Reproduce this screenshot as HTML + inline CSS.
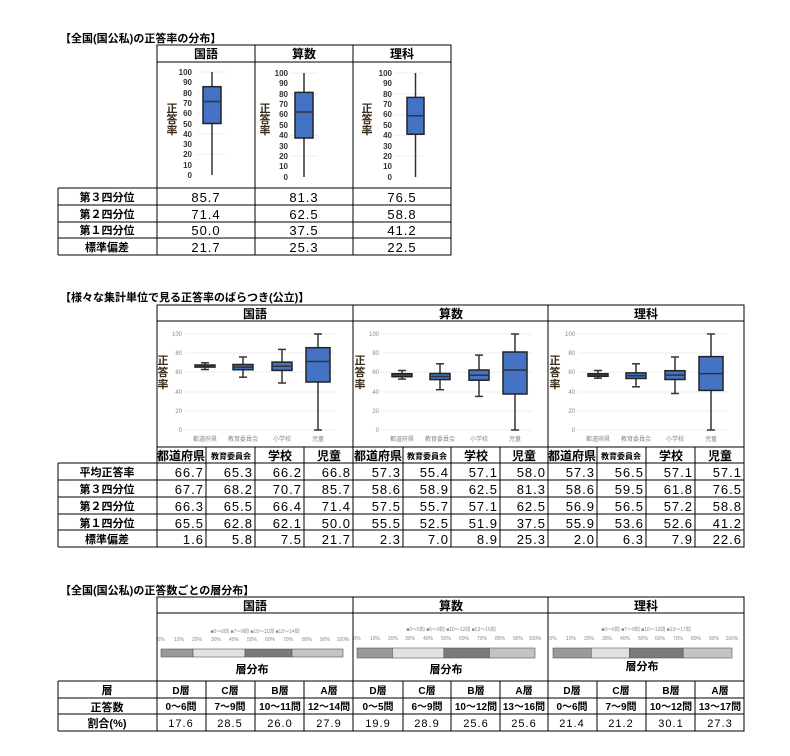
<!DOCTYPE html>
<html><head><meta charset="utf-8"><style>
html,body{margin:0;padding:0;background:#fff;width:790px;height:756px;overflow:hidden}
svg{display:block}
text{font-family:"Liberation Sans","Noto Sans CJK JP",sans-serif}
.t{font-size:11px;font-weight:bold}
.h{font-size:12px;font-weight:bold;text-anchor:middle}
.l{font-size:11px;font-weight:bold;text-anchor:middle}
.n{font-size:13px;text-anchor:middle;letter-spacing:1px}
.r{font-size:13px;text-anchor:end;letter-spacing:1px}
.ax{font-size:8px;font-weight:bold;text-anchor:end;fill:#333}
.ax2{font-size:6px;text-anchor:end;fill:#888}
.cat{font-size:6px;text-anchor:middle;fill:#888}
.v{font-size:11px;font-weight:bold;fill:#3a2a1a;text-anchor:middle}
.sm{font-size:10px;font-weight:bold;text-anchor:middle}
.ln line,.ln rect{stroke:#000;stroke-width:1}
.bx rect{fill:#4472c4;stroke:#222;stroke-width:1.5}
.bx line{stroke:#333;stroke-width:1.5}
.g line{stroke:#eee;stroke-width:1}
.tk{font-size:5px;fill:#888;text-anchor:middle}
</style></head><body>
<svg width="790" height="756" xmlns="http://www.w3.org/2000/svg">
<!-- ===== Section 1 ===== -->
<text class="t" x="60" y="42">【全国(国公私)の正答率の分布】</text>
<g class="ln" fill="none">
<rect x="157" y="45" width="294" height="210"/>
<line x1="255" y1="45" x2="255" y2="255"/><line x1="353" y1="45" x2="353" y2="255"/>
<line x1="157" y1="62" x2="451" y2="62"/>
<line x1="58" y1="188" x2="451" y2="188"/><line x1="58" y1="205" x2="451" y2="205"/>
<line x1="58" y1="222" x2="451" y2="222"/><line x1="58" y1="238" x2="451" y2="238"/>
<line x1="58" y1="255" x2="451" y2="255"/><line x1="58" y1="188" x2="58" y2="255"/>
</g>
<text class="h" x="206" y="58">国語</text><text class="h" x="304" y="58">算数</text><text class="h" x="402" y="58">理科</text>
<!-- axes sec1 -->
<g class="g">
<line x1="197" y1="72" x2="225" y2="72"/><line x1="197" y1="92.6" x2="225" y2="92.6"/><line x1="197" y1="113.2" x2="225" y2="113.2"/><line x1="197" y1="133.8" x2="225" y2="133.8"/><line x1="197" y1="154.4" x2="225" y2="154.4"/>
<line x1="290" y1="73" x2="318" y2="73"/><line x1="290" y1="93.8" x2="318" y2="93.8"/><line x1="290" y1="114.6" x2="318" y2="114.6"/><line x1="290" y1="135.4" x2="318" y2="135.4"/><line x1="290" y1="156.2" x2="318" y2="156.2"/>
<line x1="394" y1="73" x2="423" y2="73"/><line x1="394" y1="93.8" x2="423" y2="93.8"/><line x1="394" y1="114.6" x2="423" y2="114.6"/><line x1="394" y1="135.4" x2="423" y2="135.4"/><line x1="394" y1="156.2" x2="423" y2="156.2"/>
</g>
<g class="ax">
<text x="192" y="75">100</text><text x="192" y="85">90</text><text x="192" y="96">80</text><text x="192" y="106">70</text><text x="192" y="116">60</text><text x="192" y="127">50</text><text x="192" y="137">40</text><text x="192" y="147">30</text><text x="192" y="157">20</text><text x="192" y="168">10</text><text x="192" y="178">0</text>
<text x="288" y="76">100</text><text x="288" y="86">90</text><text x="288" y="97">80</text><text x="288" y="107">70</text><text x="288" y="117">60</text><text x="288" y="128">50</text><text x="288" y="138">40</text><text x="288" y="149">30</text><text x="288" y="159">20</text><text x="288" y="169">10</text><text x="288" y="180">0</text>
<text x="392" y="76">100</text><text x="392" y="86">90</text><text x="392" y="97">80</text><text x="392" y="107">70</text><text x="392" y="117">60</text><text x="392" y="128">50</text><text x="392" y="138">40</text><text x="392" y="149">30</text><text x="392" y="159">20</text><text x="392" y="169">10</text><text x="392" y="180">0</text>
</g>
<g class="v"><text x="172" y="112">正</text><text x="172" y="123">答</text><text x="172" y="134">率</text>
<text x="265" y="112">正</text><text x="265" y="123">答</text><text x="265" y="134">率</text>
<text x="367" y="112">正</text><text x="367" y="123">答</text><text x="367" y="134">率</text></g>
<g class="bx">
<line x1="212" y1="72" x2="212" y2="175"/><rect x="203" y="86.7" width="18" height="36.8"/><line x1="203" y1="101.5" x2="221" y2="101.5"/>
<line x1="304" y1="73" x2="304" y2="177"/><rect x="295" y="92.4" width="18" height="45.6"/><line x1="295" y1="112" x2="313" y2="112"/>
<line x1="415.5" y1="73" x2="415.5" y2="177"/><rect x="407" y="97.4" width="17" height="36.8"/><line x1="407" y1="115.8" x2="424" y2="115.8"/>
</g>
<g class="l"><text x="107" y="201">第３四分位</text><text x="107" y="218">第２四分位</text><text x="107" y="234">第１四分位</text><text x="107" y="251">標準偏差</text></g>
<g class="n">
<text x="206" y="202">85.7</text><text x="304" y="202">81.3</text><text x="402" y="202">76.5</text>
<text x="206" y="219">71.4</text><text x="304" y="219">62.5</text><text x="402" y="219">58.8</text>
<text x="206" y="235">50.0</text><text x="304" y="235">37.5</text><text x="402" y="235">41.2</text>
<text x="206" y="252">21.7</text><text x="304" y="252">25.3</text><text x="402" y="252">22.5</text>
</g>

<!-- ===== Section 2 ===== -->
<text class="t" x="60" y="301">【様々な集計単位で見る正答率のばらつき(公立)】</text>
<g class="ln" fill="none">
<rect x="157" y="305" width="587" height="242"/>
<line x1="353" y1="305" x2="353" y2="547"/><line x1="548" y1="305" x2="548" y2="547"/>
<line x1="157" y1="321" x2="744" y2="321"/><line x1="157" y1="447" x2="744" y2="447"/>
<line x1="58" y1="463" x2="744" y2="463"/><line x1="58" y1="480" x2="744" y2="480"/>
<line x1="58" y1="497" x2="744" y2="497"/><line x1="58" y1="514" x2="744" y2="514"/>
<line x1="58" y1="530" x2="744" y2="530"/><line x1="58" y1="547" x2="744" y2="547"/>
<line x1="58" y1="463" x2="58" y2="547"/>
<line x1="206" y1="447" x2="206" y2="547"/><line x1="255" y1="447" x2="255" y2="547"/><line x1="304" y1="447" x2="304" y2="547"/>
<line x1="403" y1="447" x2="403" y2="547"/><line x1="451" y1="447" x2="451" y2="547"/><line x1="500" y1="447" x2="500" y2="547"/>
<line x1="597" y1="447" x2="597" y2="547"/><line x1="646" y1="447" x2="646" y2="547"/><line x1="695" y1="447" x2="695" y2="547"/>
</g>
<text class="h" x="255" y="318">国語</text><text class="h" x="451" y="318">算数</text><text class="h" x="646" y="318">理科</text>
<g class="g">
<line x1="185" y1="334" x2="335" y2="334"/><line x1="185" y1="353" x2="335" y2="353"/><line x1="185" y1="372" x2="335" y2="372"/><line x1="185" y1="392" x2="335" y2="392"/><line x1="185" y1="411" x2="335" y2="411"/><line x1="185" y1="430" x2="335" y2="430"/>
<line x1="382" y1="334" x2="532" y2="334"/><line x1="382" y1="353" x2="532" y2="353"/><line x1="382" y1="372" x2="532" y2="372"/><line x1="382" y1="392" x2="532" y2="392"/><line x1="382" y1="411" x2="532" y2="411"/><line x1="382" y1="430" x2="532" y2="430"/>
<line x1="578" y1="334" x2="728" y2="334"/><line x1="578" y1="353" x2="728" y2="353"/><line x1="578" y1="372" x2="728" y2="372"/><line x1="578" y1="392" x2="728" y2="392"/><line x1="578" y1="411" x2="728" y2="411"/><line x1="578" y1="430" x2="728" y2="430"/>
</g>
<g class="ax2">
<text x="182" y="336">100</text><text x="182" y="355">80</text><text x="182" y="374">60</text><text x="182" y="394">40</text><text x="182" y="413">20</text><text x="182" y="432">0</text>
<text x="379" y="336">100</text><text x="379" y="355">80</text><text x="379" y="374">60</text><text x="379" y="394">40</text><text x="379" y="413">20</text><text x="379" y="432">0</text>
<text x="575" y="336">100</text><text x="575" y="355">80</text><text x="575" y="374">60</text><text x="575" y="394">40</text><text x="575" y="413">20</text><text x="575" y="432">0</text>
</g>
<g class="cat">
<text x="205" y="441">都道府県</text><text x="243" y="441">教育委員会</text><text x="282" y="441">小学校</text><text x="318" y="441">児童</text>
<text x="402" y="441">都道府県</text><text x="440" y="441">教育委員会</text><text x="479" y="441">小学校</text><text x="515" y="441">児童</text>
<text x="598" y="441">都道府県</text><text x="636" y="441">教育委員会</text><text x="675" y="441">小学校</text><text x="711" y="441">児童</text>
</g>
<g class="v"><text x="163" y="364">正</text><text x="163" y="376">答</text><text x="163" y="388">率</text>
<text x="360" y="364">正</text><text x="360" y="376">答</text><text x="360" y="388">率</text>
<text x="555" y="364">正</text><text x="555" y="376">答</text><text x="555" y="388">率</text></g>
<g class="bx">
<!-- 国語 -->
<line x1="205" y1="362.8" x2="205" y2="369.5"/><line x1="201" y1="362.8" x2="209" y2="362.8"/><line x1="201" y1="369.5" x2="209" y2="369.5"/><rect x="195" y="365" width="20" height="2.1"/><line x1="195" y1="366.4" x2="215" y2="366.4"/>
<line x1="243" y1="357" x2="243" y2="377.2"/><line x1="239" y1="357" x2="247" y2="357"/><line x1="239" y1="377.2" x2="247" y2="377.2"/><rect x="233" y="364.5" width="20" height="5.2"/><line x1="233" y1="367.1" x2="253" y2="367.1"/>
<line x1="282" y1="349.4" x2="282" y2="383"/><line x1="278" y1="349.4" x2="286" y2="349.4"/><line x1="278" y1="383" x2="286" y2="383"/><rect x="272" y="362.1" width="20" height="8.3"/><line x1="272" y1="366.3" x2="292" y2="366.3"/>
<line x1="318" y1="334" x2="318" y2="430"/><line x1="314" y1="334" x2="322" y2="334"/><line x1="314" y1="430" x2="322" y2="430"/><rect x="306" y="347.7" width="24" height="34.3"/><line x1="306" y1="361.5" x2="330" y2="361.5"/>
<!-- 算数 -->
<line x1="402" y1="370.5" x2="402" y2="379.1"/><line x1="398" y1="370.5" x2="406" y2="370.5"/><line x1="398" y1="379.1" x2="406" y2="379.1"/><rect x="392" y="373.7" width="20" height="3"/><line x1="392" y1="374.8" x2="412" y2="374.8"/>
<line x1="440" y1="363.8" x2="440" y2="389.7"/><line x1="436" y1="363.8" x2="444" y2="363.8"/><line x1="436" y1="389.7" x2="444" y2="389.7"/><rect x="430" y="373.5" width="20" height="6.1"/><line x1="430" y1="376.5" x2="450" y2="376.5"/>
<line x1="479" y1="355.1" x2="479" y2="396.4"/><line x1="475" y1="355.1" x2="483" y2="355.1"/><line x1="475" y1="396.4" x2="483" y2="396.4"/><rect x="469" y="370" width="20" height="10.2"/><line x1="469" y1="375.2" x2="489" y2="375.2"/>
<line x1="515" y1="334" x2="515" y2="430"/><line x1="511" y1="334" x2="519" y2="334"/><line x1="511" y1="430" x2="519" y2="430"/><rect x="503" y="352" width="24" height="42"/><line x1="503" y1="370" x2="527" y2="370"/>
<!-- 理科 -->
<line x1="598" y1="370.5" x2="598" y2="378.2"/><line x1="594" y1="370.5" x2="602" y2="370.5"/><line x1="594" y1="378.2" x2="602" y2="378.2"/><rect x="588" y="373.7" width="20" height="2.6"/><line x1="588" y1="375.4" x2="608" y2="375.4"/>
<line x1="636" y1="363.8" x2="636" y2="386.8"/><line x1="632" y1="363.8" x2="640" y2="363.8"/><line x1="632" y1="386.8" x2="640" y2="386.8"/><rect x="626" y="372.9" width="20" height="5.6"/><line x1="626" y1="375.8" x2="646" y2="375.8"/>
<line x1="675" y1="357" x2="675" y2="393.5"/><line x1="671" y1="357" x2="679" y2="357"/><line x1="671" y1="393.5" x2="679" y2="393.5"/><rect x="665" y="370.7" width="20" height="8.8"/><line x1="665" y1="375.1" x2="685" y2="375.1"/>
<line x1="711" y1="334" x2="711" y2="430"/><line x1="707" y1="334" x2="715" y2="334"/><line x1="707" y1="430" x2="715" y2="430"/><rect x="699" y="356.6" width="24" height="33.8"/><line x1="699" y1="373.6" x2="723" y2="373.6"/>
</g>
<g class="h" style="font-size:12px">
<text x="181" y="460">都道府県</text><text x="280" y="460">学校</text><text x="329" y="460">児童</text>
<text x="378" y="460">都道府県</text><text x="476" y="460">学校</text><text x="524" y="460">児童</text>
<text x="572" y="460">都道府県</text><text x="671" y="460">学校</text><text x="720" y="460">児童</text>
</g>
<g class="h" style="font-size:8px"><text x="231" y="459">教育委員会</text><text x="427" y="459">教育委員会</text><text x="621" y="459">教育委員会</text></g>
<g class="l"><text x="107" y="476">平均正答率</text><text x="107" y="493">第３四分位</text><text x="107" y="510">第２四分位</text><text x="107" y="527">第１四分位</text><text x="107" y="543">標準偏差</text></g>
<g class="r">
<text x="204" y="477">66.7</text><text x="253" y="477">65.3</text><text x="302" y="477">66.2</text><text x="351" y="477">66.8</text><text x="401" y="477">57.3</text><text x="449" y="477">55.4</text><text x="498" y="477">57.1</text><text x="546" y="477">58.0</text><text x="595" y="477">57.3</text><text x="644" y="477">56.5</text><text x="693" y="477">57.1</text><text x="742" y="477">57.1</text>
<text x="204" y="494">67.7</text><text x="253" y="494">68.2</text><text x="302" y="494">70.7</text><text x="351" y="494">85.7</text><text x="401" y="494">58.6</text><text x="449" y="494">58.9</text><text x="498" y="494">62.5</text><text x="546" y="494">81.3</text><text x="595" y="494">58.6</text><text x="644" y="494">59.5</text><text x="693" y="494">61.8</text><text x="742" y="494">76.5</text>
<text x="204" y="511">66.3</text><text x="253" y="511">65.5</text><text x="302" y="511">66.4</text><text x="351" y="511">71.4</text><text x="401" y="511">57.5</text><text x="449" y="511">55.7</text><text x="498" y="511">57.1</text><text x="546" y="511">62.5</text><text x="595" y="511">56.9</text><text x="644" y="511">56.5</text><text x="693" y="511">57.2</text><text x="742" y="511">58.8</text>
<text x="204" y="528">65.5</text><text x="253" y="528">62.8</text><text x="302" y="528">62.1</text><text x="351" y="528">50.0</text><text x="401" y="528">55.5</text><text x="449" y="528">52.5</text><text x="498" y="528">51.9</text><text x="546" y="528">37.5</text><text x="595" y="528">55.9</text><text x="644" y="528">53.6</text><text x="693" y="528">52.6</text><text x="742" y="528">41.2</text>
<text x="204" y="544">1.6</text><text x="253" y="544">5.8</text><text x="302" y="544">7.5</text><text x="351" y="544">21.7</text><text x="401" y="544">2.3</text><text x="449" y="544">7.0</text><text x="498" y="544">8.9</text><text x="546" y="544">25.3</text><text x="595" y="544">2.0</text><text x="644" y="544">6.3</text><text x="693" y="544">7.9</text><text x="742" y="544">22.6</text>
</g>

<!-- ===== Section 3 ===== -->
<text class="t" x="60" y="594">【全国(国公私)の正答数ごとの層分布】</text>
<g class="ln" fill="none">
<rect x="157" y="597" width="587" height="134"/>
<line x1="353" y1="597" x2="353" y2="731"/><line x1="548" y1="597" x2="548" y2="731"/>
<line x1="157" y1="613" x2="744" y2="613"/>
<line x1="58" y1="681" x2="744" y2="681"/><line x1="58" y1="698" x2="744" y2="698"/><line x1="58" y1="714" x2="744" y2="714"/><line x1="58" y1="731" x2="744" y2="731"/>
<line x1="58" y1="681" x2="58" y2="731"/>
<line x1="206" y1="681" x2="206" y2="731"/><line x1="255" y1="681" x2="255" y2="731"/><line x1="304" y1="681" x2="304" y2="731"/>
<line x1="403" y1="681" x2="403" y2="731"/><line x1="451" y1="681" x2="451" y2="731"/><line x1="500" y1="681" x2="500" y2="731"/>
<line x1="597" y1="681" x2="597" y2="731"/><line x1="646" y1="681" x2="646" y2="731"/><line x1="695" y1="681" x2="695" y2="731"/>
</g>
<text class="h" x="255" y="610">国語</text><text class="h" x="451" y="610">算数</text><text class="h" x="646" y="610">理科</text>
<g class="tk">
<text x="255" y="633">■0～6問 ■7～9問 ■10～11問 ■12～14問</text>
<text x="451" y="631">■0～5問 ■6～9問 ■10～12問 ■13～16問</text>
<text x="646" y="631">■0～6問 ■7～9問 ■10～12問 ■13～17問</text>
<text x="161" y="641">0%</text><text x="179" y="641">10%</text><text x="197" y="641">20%</text><text x="216" y="641">30%</text><text x="234" y="641">40%</text><text x="252" y="641">50%</text><text x="270" y="641">60%</text><text x="288" y="641">70%</text><text x="307" y="641">80%</text><text x="325" y="641">90%</text><text x="343" y="641">100%</text>
<text x="357" y="640">0%</text><text x="375" y="640">10%</text><text x="393" y="640">20%</text><text x="410" y="640">30%</text><text x="428" y="640">40%</text><text x="446" y="640">50%</text><text x="464" y="640">60%</text><text x="482" y="640">70%</text><text x="500" y="640">80%</text><text x="518" y="640">90%</text><text x="535" y="640">100%</text>
<text x="553" y="640">0%</text><text x="571" y="640">10%</text><text x="589" y="640">20%</text><text x="607" y="640">30%</text><text x="625" y="640">40%</text><text x="643" y="640">50%</text><text x="660" y="640">60%</text><text x="678" y="640">70%</text><text x="696" y="640">80%</text><text x="714" y="640">90%</text><text x="732" y="640">100%</text>
</g>
<!-- bars -->
<g stroke="#555" stroke-width="0.6">
<rect x="161" y="649" width="32" height="8" fill="#9a9a9a"/><rect x="193" y="649" width="52" height="8" fill="#e2e2e2"/><rect x="245" y="649" width="47" height="8" fill="#7a7a7a"/><rect x="292" y="649" width="51" height="8" fill="#c4c4c4"/>
<rect x="357" y="648" width="35.4" height="10" fill="#9a9a9a"/><rect x="392.4" y="648" width="51.4" height="10" fill="#e2e2e2"/><rect x="443.8" y="648" width="45.6" height="10" fill="#7a7a7a"/><rect x="489.4" y="648" width="45.6" height="10" fill="#c4c4c4"/>
<rect x="553" y="648" width="38.3" height="10" fill="#9a9a9a"/><rect x="591.3" y="648" width="38" height="10" fill="#e2e2e2"/><rect x="629.3" y="648" width="53.9" height="10" fill="#7a7a7a"/><rect x="683.2" y="648" width="48.8" height="10" fill="#c4c4c4"/>
</g>
<g class="sm" style="font-size:11px"><text x="252" y="673">層分布</text><text x="446" y="673">層分布</text><text x="642" y="670">層分布</text></g>
<g class="l"><text x="107" y="694">層</text><text x="107" y="711">正答数</text><text x="107" y="727">割合(%)</text></g>
<g class="sm">
<text x="181" y="694">D層</text><text x="230" y="694">C層</text><text x="280" y="694">B層</text><text x="329" y="694">A層</text>
<text x="378" y="694">D層</text><text x="427" y="694">C層</text><text x="476" y="694">B層</text><text x="524" y="694">A層</text>
<text x="572" y="694">D層</text><text x="621" y="694">C層</text><text x="671" y="694">B層</text><text x="720" y="694">A層</text>
<text x="181" y="710">0～6問</text><text x="230" y="710">7～9問</text><text x="280" y="710">10～11問</text><text x="329" y="710">12～14問</text>
<text x="378" y="710">0～5問</text><text x="427" y="710">6～9問</text><text x="476" y="710">10～12問</text><text x="524" y="710">13～16問</text>
<text x="572" y="710">0～6問</text><text x="621" y="710">7～9問</text><text x="671" y="710">10～12問</text><text x="720" y="710">13～17問</text>
</g>
<g class="n" style="font-size:11px">
<text x="181" y="727">17.6</text><text x="230" y="727">28.5</text><text x="280" y="727">26.0</text><text x="329" y="727">27.9</text>
<text x="378" y="727">19.9</text><text x="427" y="727">28.9</text><text x="476" y="727">25.6</text><text x="524" y="727">25.6</text>
<text x="572" y="727">21.4</text><text x="621" y="727">21.2</text><text x="671" y="727">30.1</text><text x="720" y="727">27.3</text>
</g>
</svg>
</body></html>
